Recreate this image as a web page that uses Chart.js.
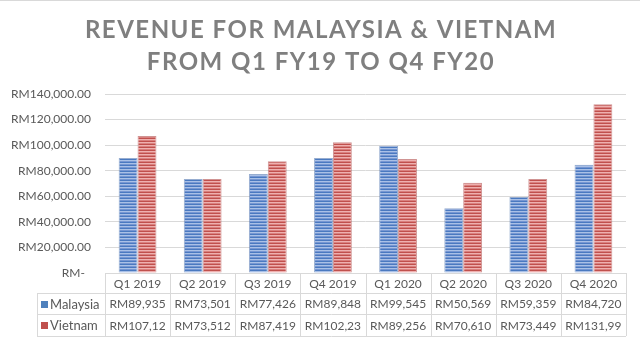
<!DOCTYPE html>
<html lang="en">
<head>
  <meta charset="UTF-8">
  <title>Revenue for Malaysia & Vietnam</title>
  <script src="https://cdn.jsdelivr.net/npm/chart.js"></script>
  <style>
    body { margin: 0; background: #ffffff; }
    #wrap { width: 640px; height: 343px; }
  </style>
</head>
<body>
  <div id="wrap"><canvas id="chart" width="640" height="343"></canvas></div>

  <script>
    const titleLines = ['REVENUE FOR MALAYSIA & VIETNAM', 'FROM Q1 FY19 TO Q4 FY20'];
    const quarters = ['Q1 2019', 'Q2 2019', 'Q3 2019', 'Q4 2019', 'Q1 2020', 'Q2 2020', 'Q3 2020', 'Q4 2020'];
    const malaysia = [89935, 73501, 77426, 89848, 99545, 50569, 59359, 84720];
    const vietnam = [107120, 73512, 87419, 102230, 89256, 70610, 73449, 131990];
    const yMax = 140000;
    const yStep = 20000;

    const FONT = 'Lato, "Open Sans", sans-serif';
    const TEXT = '#595959';
    const LINE = '#d9d9d9';

    // striped fill like the Excel "horizontal lines" pattern
    function stripes(colors) {
      const c = document.createElement('canvas');
      c.width = 1;
      c.height = colors.length;
      const g = c.getContext('2d');
      colors.forEach((col, i) => { g.fillStyle = col; g.fillRect(0, i, 1, 1); });
      return g.createPattern(c, 'repeat');
    }
    const ctx = document.getElementById('chart').getContext('2d');
    const bluePat = stripes(['#4a79c0', '#a9c0e6', '#7696d2']);
    const redPat = stripes(['#c0504d', '#eeb0af', '#d9807e']);

    const series = [
      { name: 'Malaysia', values: malaysia, key: '#4f81bd' },
      { name: 'Vietnam', values: vietnam, key: '#c0504d' }
    ];

    function money(v) {
      return 'RM' + v.toLocaleString('en-US');
    }

    // clip text to a cell like Excel does
    function fit(c, s, maxW) {
      while (s.length > 1 && c.measureText(s).width > maxW) s = s.slice(0, -1);
      return s;
    }

    const titlePlugin = {
      id: 'titleText',
      afterDraw(chart) {
        const c = chart.ctx;
        c.save();
        c.strokeStyle = LINE;
        c.lineWidth = 1;
        c.beginPath();
        c.moveTo(0, 0.5);
        c.lineTo(640, 0.5);
        c.stroke();
        c.fillStyle = '#7f7f7f';
        c.font = 'bold 24px ' + FONT;
        c.letterSpacing = '1.5px';
        c.textAlign = 'center';
        c.textBaseline = 'middle';
        c.fillText(titleLines[0], 321, 30);
        c.fillText(titleLines[1], 321, 62);
        c.restore();
      }
    };

    const tablePlugin = {
      id: 'dataTable',
      afterDraw(chart) {
        const c = chart.ctx;
        const area = chart.chartArea;
        const x = chart.scales.x;
        const n = quarters.length;
        const w = area.width / n;
        const top = area.bottom;
        const rows = [top, top + 20, top + 41, top + 63];
        const legendLeft = 37;

        c.save();
        c.strokeStyle = LINE;
        c.lineWidth = 1;
        c.beginPath();
        c.moveTo(area.left, rows[0] + 0.5);
        c.lineTo(area.right, rows[0] + 0.5);
        for (let r = 1; r < rows.length; r++) {
          c.moveTo(legendLeft, rows[r] + 0.5);
          c.lineTo(area.right, rows[r] + 0.5);
        }
        c.moveTo(legendLeft + 0.5, rows[1]);
        c.lineTo(legendLeft + 0.5, rows[3]);
        for (let i = 0; i <= n; i++) {
          const px = Math.round(area.left + i * w) + 0.5;
          c.moveTo(px, rows[0]);
          c.lineTo(px, rows[3]);
        }
        c.stroke();

        c.fillStyle = TEXT;
        c.font = '12px ' + FONT;
        c.textAlign = 'center';
        c.textBaseline = 'middle';
        quarters.forEach((q, i) => {
          const cx = x.getPixelForValue(i);
          c.fillText(q, cx, (rows[0] + rows[1]) / 2 + 1);
          series.forEach((s, k) => {
            const cy = (rows[k + 1] + rows[k + 2]) / 2 + 1;
            c.fillText(fit(c, money(s.values[i]), w - 7), cx, cy);
          });
        });

        c.textAlign = 'left';
        c.font = '13px ' + FONT;
        series.forEach((s, k) => {
          const cy = (rows[k + 1] + rows[k + 2]) / 2;
          c.fillStyle = s.key;
          c.fillRect(41, Math.round(cy) - 3, 7, 7);
          c.fillStyle = TEXT;
          c.fillText(s.name, 50, cy + 1);
        });
        c.restore();
      }
    };

    new Chart(ctx, {
      type: 'bar',
      data: {
        labels: quarters,
        datasets: [
          { label: 'Malaysia', data: malaysia, backgroundColor: bluePat, borderColor: 'rgba(65,105,170,0.55)', borderWidth: 1, borderSkipped: 'bottom' },
          { label: 'Vietnam', data: vietnam, backgroundColor: redPat, borderColor: 'rgba(170,60,58,0.55)', borderWidth: 1, borderSkipped: 'bottom' }
        ]
      },
      options: {
        responsive: false,
        animation: false,
        layout: { padding: { top: 94, bottom: 70, right: 14, left: 0 } },
        plugins: { legend: { display: false }, title: { display: false }, tooltip: { enabled: false } },
        datasets: { bar: { categoryPercentage: 0.58, barPercentage: 1 } },
        scales: {
          x: { display: false },
          y: {
            min: 0,
            max: yMax,
            afterFit(scale) { scale.width = 105; },
            border: { display: false },
            grid: { color: LINE, drawTicks: false },
            ticks: {
              stepSize: yStep,
              padding: 14,
              color: TEXT,
              font: { family: FONT, size: 12 },
              callback: v => v === 0 ? 'RM-  ' : 'RM' + v.toLocaleString('en-US', { minimumFractionDigits: 2 })
            }
          }
        }
      },
      plugins: [titlePlugin, tablePlugin]
    });
  </script>
</body>
</html>
